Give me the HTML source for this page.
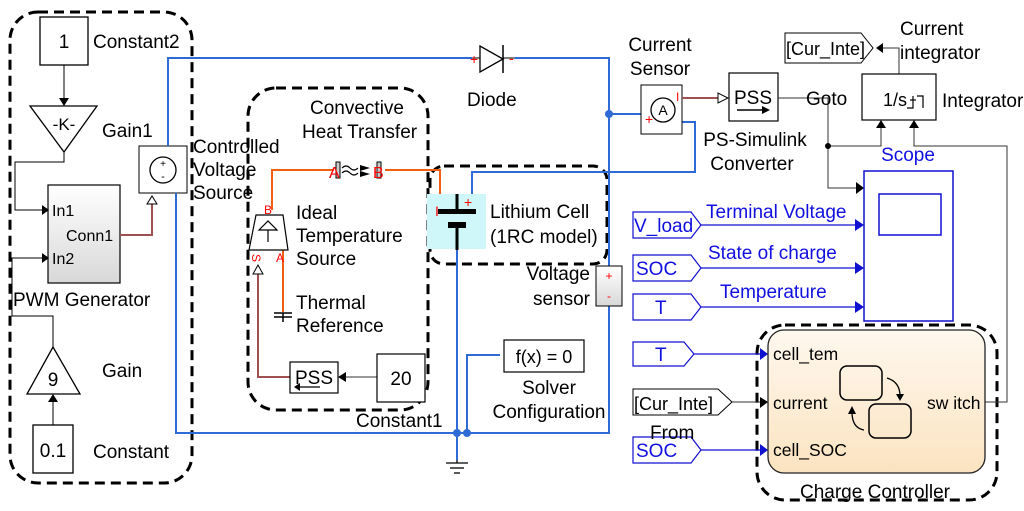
<!DOCTYPE html>
<html><head><meta charset="utf-8"><style>
html,body{margin:0;padding:0;background:#fff;}
svg{display:block;font-family:"Liberation Sans",sans-serif;}
</style></head><body>
<svg width="1024" height="511" viewBox="0 0 1024 511" xmlns="http://www.w3.org/2000/svg">
<defs>
<linearGradient id="gr" x1="0" y1="0" x2="0" y2="1"><stop offset="0" stop-color="#fff"/><stop offset="1" stop-color="#d8d8d8"/></linearGradient>
<linearGradient id="bg" x1="0" y1="0" x2="0" y2="1"><stop offset="0" stop-color="#fff8ee"/><stop offset="1" stop-color="#fbe3c0"/></linearGradient>
</defs>
<g fill="none" stroke="#000" stroke-width="3" stroke-dasharray="10,6">
<rect x="10" y="12" width="182" height="471" rx="28"/>
<rect x="248" y="88" width="180" height="322" rx="28"/>
<rect x="430" y="166" width="177" height="98" rx="14"/>
<rect x="757" y="325" width="240" height="175" rx="28"/>
</g>
<g stroke="#000" fill="none" stroke-width="1">
<rect x="40" y="17" width="48" height="48" fill="#fff" stroke-width="1.3"/>
<line x1="64" y1="65" x2="64" y2="100"/>
<polygon points="30,106 97,106 64,152" fill="#fff" stroke-width="1.3"/>
<polyline points="64,152 64,162 15,162 15,210 44,210"/>
<rect x="48" y="185" width="72" height="98" fill="url(#gr)" stroke-width="1.2"/>
<polyline points="53,347 53,316 12,316 12,258 44,258"/>
<polygon points="53,347 27,394 80,394" fill="#fff" stroke-width="1.3"/>
<line x1="53" y1="425" x2="53" y2="400"/>
<rect x="33" y="425" width="40" height="48" fill="#fff" stroke-width="1.3"/>
</g>
<g fill="#000">
<polygon points="59,98 69,98 64,106"/>
<polygon points="42,205 42,215 49,210"/>
<polygon points="42,253 42,263 49,258"/>
<polygon points="48,402 58,402 53,394"/>
</g>
<g font-size="19" fill="#000">
<text x="64" y="48" text-anchor="middle">1</text>
<text x="93" y="48">Constant2</text>
<text x="64" y="130" text-anchor="middle" font-size="17">-K-</text>
<text x="102" y="137">Gain1</text>
<text x="52" y="216" font-size="16">In1</text>
<text x="52" y="264" font-size="16">In2</text>
<text x="66" y="241" font-size="16">Conn1</text>
<text x="13" y="306">PWM Generator</text>
<text x="53" y="386" text-anchor="middle">9</text>
<text x="102" y="377">Gain</text>
<text x="53" y="457" text-anchor="middle">0.1</text>
<text x="93" y="458">Constant</text>
</g>
<polyline points="120,235 152,235 152,203" fill="none" stroke="#a05050" stroke-width="2"/>
<polygon points="147,204 157,204 152,196" fill="#fff" stroke="#000"/>
<rect x="139" y="146" width="48" height="47" fill="#fff" stroke="#000"/>
<circle cx="163" cy="170" r="13" fill="none" stroke="#000" stroke-width="1.3"/>
<text x="163" y="167" font-size="10" text-anchor="middle">+</text>
<text x="163" y="180" font-size="11" text-anchor="middle">-</text>
<g font-size="19"><text x="193" y="153">Controlled</text><text x="193" y="176">Voltage</text><text x="193" y="199">Source</text></g>
<g stroke="#2f6bd6" stroke-width="2" fill="none">
<polyline points="168,146 168,58 472,58"/>
<polyline points="515,58 609,58 609,433 176,433 176,193"/>
<line x1="609" y1="114" x2="645" y2="114"/>
<polyline points="682,122 695,122 695,172 472,172 472,200"/>
<line x1="457" y1="250" x2="457" y2="460"/>
<polyline points="467,433 467,355 500,355"/>
<line x1="609" y1="306" x2="609" y2="433"/>
</g>
<g fill="#2f6bd6"><circle cx="609" cy="114" r="4"/><circle cx="457" cy="433" r="4"/><circle cx="467" cy="433" r="4"/></g>
<g stroke="#000" stroke-width="1.3"><line x1="457" y1="460" x2="457" y2="463"/><line x1="446" y1="463" x2="468" y2="463"/><line x1="450" y1="468" x2="464" y2="468"/><line x1="454" y1="473" x2="460" y2="473"/></g>
<polygon points="480,46 480,72 503,59" fill="#fff" stroke="#000" stroke-width="1.3"/>
<line x1="503" y1="45" x2="503" y2="73" stroke="#000" stroke-width="1.5"/>
<line x1="472" y1="58" x2="480" y2="58" stroke="#000"/>
<line x1="503" y1="58" x2="515" y2="58" stroke="#000"/>
<text x="470" y="64" fill="red" font-size="14">+</text><text x="509" y="63" fill="red" font-size="14">-</text>
<text x="467" y="106" font-size="19">Diode</text>
<rect x="641" y="85" width="41" height="49" fill="#fff" stroke="#000"/>
<circle cx="663" cy="110" r="12" fill="#fff" stroke="#000" stroke-width="1.3"/>
<text x="663" y="115" font-size="14" text-anchor="middle">A</text>
<text x="645" y="124" fill="red" font-size="14">+</text>
<text x="676" y="101" fill="red" font-size="12">I</text>
<text x="660" y="51" font-size="19" text-anchor="middle">Current</text>
<text x="660" y="75" font-size="19" text-anchor="middle">Sensor</text>
<line x1="682" y1="98" x2="718" y2="98" stroke="#a05050" stroke-width="2"/>
<polygon points="718,93 718,103 728,98" fill="#fff" stroke="#000"/>
<rect x="729" y="73" width="49" height="48" fill="#fff" stroke="#000" stroke-width="1.2"/>
<text x="753" y="104" font-size="19" text-anchor="middle">PSS</text>
<line x1="737" y1="110" x2="765" y2="110" stroke="#000" stroke-width="1.5"/><polygon points="762,106 770,110 762,114" fill="#000"/>
<text x="755" y="146" font-size="19" text-anchor="middle">PS-Simulink</text>
<text x="752" y="170" font-size="19" text-anchor="middle">Converter</text>
<g stroke="#333" fill="none" stroke-width="1">
<polyline points="778,98 828,98 828,188 856,188"/>
<polyline points="828,146 881,146 881,128"/>
<polyline points="914,128 914,146 1007,146 1007,402 985,402"/>
<polyline points="899,74 899,48 883,48"/>
<line x1="704" y1="402" x2="764" y2="402"/>
</g>
<circle cx="828" cy="146" r="3" fill="#000"/>
<g fill="#000"><polygon points="856,182 856,194 864,188"/><polygon points="876,128 886,128 881,120"/><polygon points="909,128 919,128 914,120"/><polygon points="883,43 883,53 876,48"/><polygon points="760,397 760,408 768,402"/></g>
<rect x="862" y="74" width="74" height="46" fill="#fff" stroke="#000" stroke-width="1.2"/>
<text x="883" y="106" font-size="18">1/s</text>
<g stroke="#000" fill="none" stroke-width="1.2"><polyline points="907,108 913,108 913,96"/><polyline points="917,96 923,96 923,108"/><line x1="910" y1="100" x2="916" y2="100"/></g>
<text x="942" y="107" font-size="19">Integrator</text>
<polygon points="785,33 861,33 873,48 861,63 785,63" fill="#fff" stroke="#000"/>
<text x="786" y="55" font-size="18">[Cur_Inte]</text>
<text x="900" y="35" font-size="19">Current</text><text x="900" y="59" font-size="19">integrator</text>
<text x="806" y="105" font-size="19">Goto</text>
<text x="908" y="161" font-size="19" fill="#1010e0" text-anchor="middle">Scope</text>
<rect x="864" y="171" width="89" height="150" fill="#fff" stroke="#1010d0" stroke-width="1.5"/>
<rect x="879" y="194" width="62" height="41" fill="none" stroke="#1010d0" stroke-width="1.5"/>
<g stroke="#1010d0" fill="#fff" stroke-width="1.2">
<polygon points="633,212 691,212 701,225 691,238 633,238"/>
<polygon points="633,255 691,255 701,268 691,281 633,281"/>
<polygon points="633,294 691,294 701,307 691,320 633,320"/>
<polygon points="633,342 684,342 694,354 684,366 633,366"/>
<polygon points="633,437 691,437 701,450 691,463 633,463"/>
</g>
<g stroke="#1010d0" stroke-width="1.2"><line x1="701" y1="225" x2="856" y2="225"/><line x1="701" y1="268" x2="856" y2="268"/><line x1="701" y1="307" x2="856" y2="307"/><line x1="694" y1="354" x2="762" y2="354"/><line x1="701" y1="450" x2="762" y2="450"/></g>
<g fill="#1010d0"><polygon points="855,219 855,231 864,225"/><polygon points="855,262 855,274 864,268"/><polygon points="855,301 855,313 864,307"/><polygon points="760,348 760,360 768,354"/><polygon points="760,444 760,456 768,450"/></g>
<g font-size="19" fill="#1010e0">
<text x="634" y="232">V_load</text><text x="636" y="275">SOC</text><text x="655" y="314">T</text><text x="655" y="361">T</text><text x="636" y="457">SOC</text>
<text x="706" y="218">Terminal Voltage</text><text x="708" y="259">State of charge</text><text x="720" y="298">Temperature</text>
</g>
<polygon points="633,389 718,389 732,402 718,415 633,415" fill="#fff" stroke="#000"/>
<text x="634" y="410" font-size="18">[Cur_Inte]</text>
<text x="650" y="439" font-size="19">From</text>
<rect x="768" y="330" width="217" height="143" rx="16" fill="url(#bg)" stroke="#222" stroke-width="1.3"/>
<g font-size="17.5"><text x="773" y="360">cell_tem</text><text x="773" y="409">current</text><text x="773" y="456">cell_SOC</text><text x="927" y="409">sw itch</text></g>
<rect x="840" y="366" width="42" height="34" rx="7" fill="none" stroke="#000" stroke-width="1.5"/>
<rect x="869" y="404" width="42" height="34" rx="7" fill="none" stroke="#000" stroke-width="1.5"/>
<path d="M887,378 Q900,382 900,396" fill="none" stroke="#000" stroke-width="1.3"/><polygon points="896,394 904,394 900,401" fill="#000"/>
<path d="M864,430 Q852,428 852,412" fill="none" stroke="#000" stroke-width="1.3"/><polygon points="848,414 856,414 852,406" fill="#000"/>
<text x="800" y="498" font-size="19">Charge Controller</text>
<g stroke="#f06010" stroke-width="2" fill="none">
<polyline points="272,210 272,170 334,170"/>
<polyline points="385,170 440,170 440,194"/>
<line x1="283" y1="250" x2="283" y2="312"/>
</g>
<rect x="336" y="162" width="4" height="16" fill="#ccc" stroke="#000"/>
<rect x="377" y="162" width="4" height="16" fill="#ccc" stroke="#000"/>
<path d="M342,168 q4,-4 8,0 t8,0 M342,173 q4,-4 8,0 t8,0" fill="none" stroke="#000" stroke-width="1.2"/>
<polygon points="360,165 370,168 360,171" fill="#000"/><polygon points="360,171 370,174 360,177" fill="#000"/>
<text x="329" y="178" fill="red" font-size="16">A</text><text x="373" y="178" fill="red" font-size="16">B</text>
<polygon points="256,215 283,215 288,250 249,250" fill="#fff" stroke="#000" stroke-width="1.2"/>
<path d="M259,230 L268,221 L277,230 Z M268,230 V242" fill="none" stroke="#000" stroke-width="1.2"/>
<text x="264" y="214" fill="red" font-size="12">B</text>
<text x="252" y="262" fill="red" font-size="12" transform="rotate(90 256 258)">S</text>
<text x="276" y="262" fill="red" font-size="12">A</text>
<g font-size="19"><text x="296" y="219">Ideal</text><text x="296" y="242">Temperature</text><text x="296" y="265">Source</text>
<text x="296" y="309">Thermal</text><text x="296" y="332">Reference</text>
<text x="310" y="114">Convective</text><text x="302" y="138">Heat Transfer</text></g>
<g stroke="#000" stroke-width="1.5"><line x1="274" y1="313" x2="292" y2="313"/><line x1="274" y1="317" x2="292" y2="317"/><line x1="283" y1="313" x2="283" y2="322"/></g>
<polyline points="258,268 258,377 290,377" fill="none" stroke="#a05050" stroke-width="2"/>
<polygon points="253,274 263,274 258,265" fill="#fff" stroke="#000"/>
<rect x="290" y="362" width="48" height="31" fill="#fff" stroke="#000" stroke-width="1.2"/>
<text x="314" y="384" font-size="19" text-anchor="middle">PSS</text>
<line x1="300" y1="387" x2="320" y2="387" stroke="#000" stroke-width="1.3"/><polygon points="300,383 294,387 300,391" fill="#000"/>
<line x1="377" y1="377" x2="346" y2="377" stroke="#333"/><polygon points="346,372 346,382 338,377" fill="#000"/>
<rect x="377" y="354" width="48" height="48" fill="#fff" stroke="#000" stroke-width="1.2"/>
<text x="401" y="385" font-size="19" text-anchor="middle">20</text>
<text x="356" y="427" font-size="19">Constant1</text>
<rect x="427" y="194" width="59" height="55" fill="#cff6f8"/>
<line x1="457" y1="194" x2="457" y2="210" stroke="#000" stroke-width="3"/>
<rect x="438" y="209" width="38" height="5" fill="#000"/>
<rect x="448" y="222" width="18" height="6" fill="#000"/>
<line x1="457" y1="222" x2="457" y2="250" stroke="#000" stroke-width="3"/>
<text x="435" y="216" fill="red" font-size="14">I</text><text x="464" y="207" fill="red" font-size="14">+</text>
<g font-size="19"><text x="490" y="218">Lithium Cell</text><text x="490" y="243">(1RC model)</text></g>
<rect x="596" y="266" width="26" height="40" fill="url(#gr)" stroke="#000"/>
<text x="609" y="280" fill="red" font-size="12" text-anchor="middle">+</text>
<text x="609" y="300" fill="red" font-size="12" text-anchor="middle">-</text>
<g font-size="19" text-anchor="end"><text x="590" y="280">Voltage</text><text x="590" y="305">sensor</text></g>
<rect x="504" y="340" width="80" height="32" fill="#fff" stroke="#000" stroke-width="1.2"/>
<text x="544" y="363" font-size="18" text-anchor="middle">f(x) = 0</text>
<g font-size="19" text-anchor="middle"><text x="549" y="394">Solver</text><text x="549" y="418">Configuration</text></g>
</svg>
</body></html>
